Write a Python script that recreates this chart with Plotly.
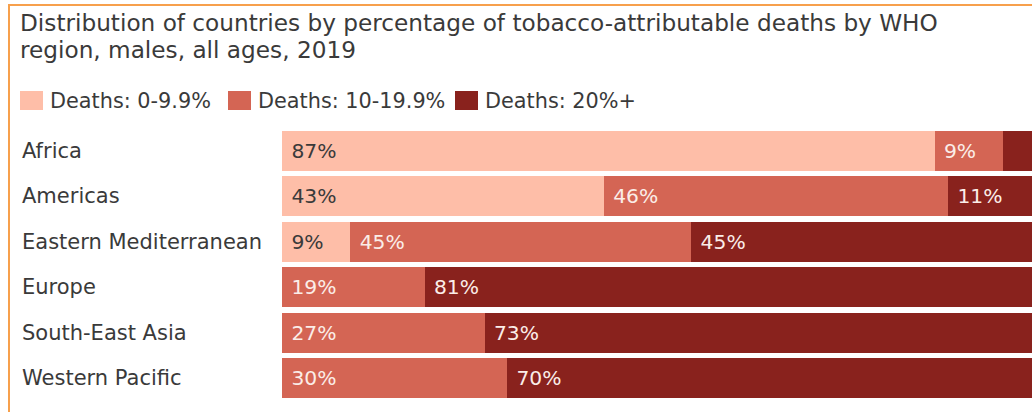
import plotly.graph_objects as go

regions = ["Africa", "Americas", "Eastern Mediterranean", "Europe", "South-East Asia", "Western Pacific"]
series_names = ["Deaths: 0-9.9%", "Deaths: 10-19.9%", "Deaths: 20%+"]
low = [87.0, 42.9, 9.1, 0.0, 0.0, 0.0]
mid = [9.1, 45.9, 45.45, 19.0, 27.0, 30.0]
high = [3.9, 11.2, 45.45, 81.0, 73.0, 70.0]
title_lines = ["Distribution of countries by percentage of tobacco-attributable deaths by WHO",
               "region, males, all ages, 2019"]

colors = ["#FEBEA8", "#D46554", "#89221D"]
text_colors = ["#3a3a3a", "#FBEDE8", "#FBEDE8"]

W, H = 1032, 412
ML, MR, MT, MB = 282, 0, 128, 11
PW = W - ML - MR
PH = H - MT - MB
FONT = "DejaVu Sans"


def px(x):
    return (x - ML) / PW


def py(y):
    return (H - MB - y) / PH


fig = go.Figure()
for name, vals, c, tc in zip(series_names, [low, mid, high], colors, text_colors):
    fig.add_trace(go.Bar(
        y=regions, x=vals, name=name, orientation="h",
        marker=dict(color=c, line=dict(width=0)),
        text=[(" %d%%" % round(v)) if v >= 5 else "" for v in vals],
        textposition="inside", insidetextanchor="start",
        textfont=dict(family=FONT, size=20.3, color=tc),
        cliponaxis=False, showlegend=False, hoverinfo="skip",
    ))

annotations = []
for r in regions:
    annotations.append(dict(
        x=px(20), y=r, xref="paper", yref="y", text=r, showarrow=False,
        xanchor="left", yanchor="middle",
        font=dict(family=FONT, size=21, color="#3a3a3a")))

for line, ly in zip(title_lines, [22, 50]):
    annotations.append(dict(
        x=px(18), y=py(ly), xref="paper", yref="paper", text=line, showarrow=False,
        xanchor="left", yanchor="middle",
        font=dict(family=FONT, size=23.2, color="#3a3a3a")))

shapes = [dict(type="rect", xref="paper", yref="paper",
               x0=px(9), x1=px(1060), y0=py(5), y1=py(440),
               line=dict(color="#F7A04C", width=2), fillcolor="rgba(0,0,0,0)", layer="below")]

legend_x = [20, 228, 455]
for name, c, lx in zip(series_names, colors, legend_x):
    shapes.append(dict(type="rect", xref="paper", yref="paper",
                       x0=px(lx), x1=px(lx + 23), y0=py(91), y1=py(110),
                       line=dict(width=0), fillcolor=c))
    annotations.append(dict(
        x=px(lx + 28), y=py(101), xref="paper", yref="paper", text=name, showarrow=False,
        xanchor="left", yanchor="middle",
        font=dict(family=FONT, size=20.8, color="#3a3a3a")))

fig.update_layout(
    width=W, height=H,
    margin=dict(l=ML, r=MR, t=MT, b=MB, pad=0),
    barmode="stack", bargap=0.12,
    paper_bgcolor="white", plot_bgcolor="white",
    xaxis=dict(range=[0, 100], visible=False, fixedrange=True),
    yaxis=dict(autorange="reversed", visible=False, fixedrange=True),
    shapes=shapes, annotations=annotations,
    uniformtext=dict(mode="show", minsize=10),
)

fig.write_html("out.html", config={"displayModeBar": False})
